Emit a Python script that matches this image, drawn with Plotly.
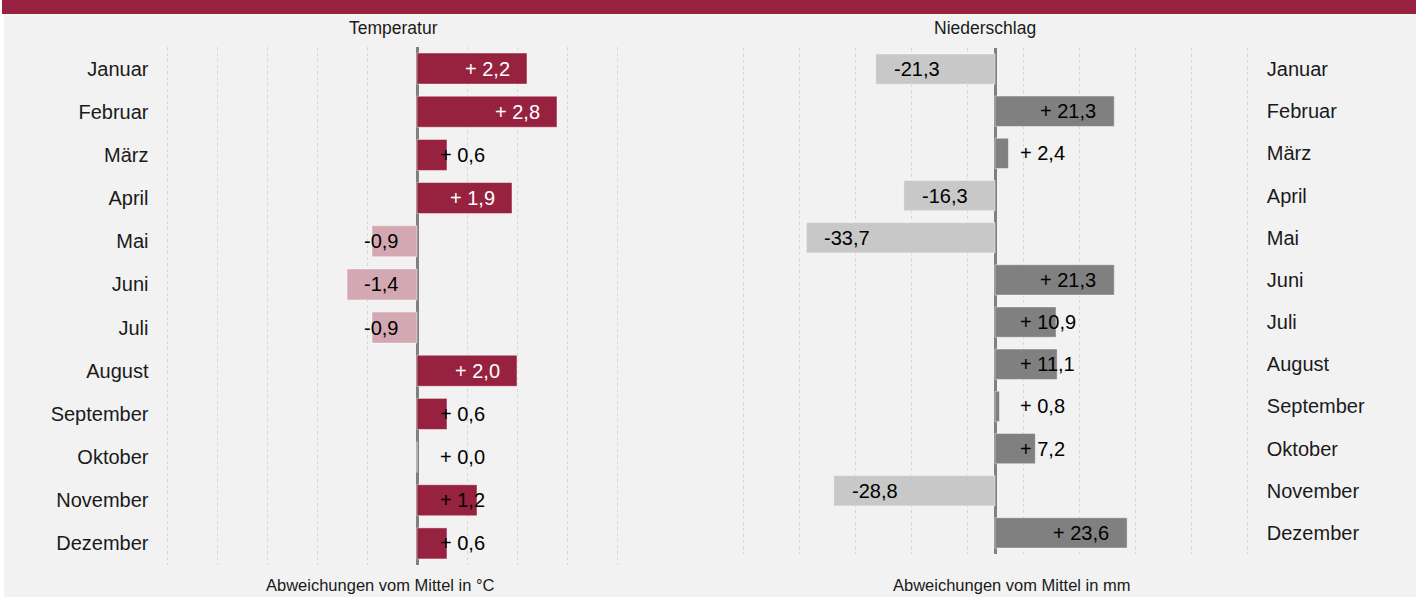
import plotly.graph_objects as go

months = ["Januar", "Februar", "März", "April", "Mai", "Juni", "Juli",
          "August", "September", "Oktober", "November", "Dezember"]
temperature = [2.2, 2.8, 0.6, 1.9, -0.9, -1.4, -0.9, 2.0, 0.6, 0.0, 1.2, 0.6]
precipitation = [-21.3, 21.3, 2.4, -16.3, -33.7, 21.3, 10.9, 11.1, 0.8, 7.2, -28.8, 23.6]

W, H = 1416, 600
FONT = "Liberation Sans, Arial, sans-serif"
FS = 20

# axis geometry (pixels); ranges padded slightly so edge gridlines render
L_X0, L_X1, L_RANGE = 164.5, 619.5, (-5.05, 4.05)
R_X0, R_X1, R_RANGE = 740.2, 1249.8, (-45.5, 45.5)
L_Y0, L_Y1 = 47, 565
R_Y0, R_Y1 = 48, 554

DARK_RED = "#97223F"
PINK = "#D4A8B2"
DARK_GREY = "#808080"
LIGHT_GREY = "#C8C8C8"

ARIAL_W = {"+": 0.584, " ": 0.278, ",": 0.278, "-": 0.333, "1": 0.556}


def text_w(s):
    return sum(ARIAL_W.get(c, 0.556) for c in s) * FS


def fmt(v):
    s = f"{abs(v):.1f}".replace(".", ",")
    return ("+ " + s) if v >= 0 else ("-" + s)


def pxper(x0, x1, rng):
    return (x1 - x0) / (rng[1] - rng[0])


def label_pos(v, ppu, pad, gap):
    """returns (x, xanchor, inside) in data units"""
    t = fmt(v)
    w = text_w(t)
    end = v * ppu
    if v >= 0:
        right = end - pad
        if right - w < gap:
            return gap / ppu, "left", False
        return right / ppu, "right", True
    else:
        left = end + pad
        if left + w > -gap + 4:
            return (-gap + 4) / ppu, "right", False
        return left / ppu, "left", True


fig = go.Figure()

fig.add_trace(go.Bar(
    x=temperature, y=months, orientation="h", xaxis="x", yaxis="y",
    marker=dict(color=[DARK_RED if v >= 0 else PINK for v in temperature],
                line=dict(color="rgba(255,255,255,0.45)", width=1)),
    width=0.72, hoverinfo="skip", showlegend=False))

fig.add_trace(go.Bar(
    x=precipitation, y=months, orientation="h", xaxis="x2", yaxis="y2",
    marker=dict(color=[DARK_GREY if v >= 0 else LIGHT_GREY for v in precipitation],
                line=dict(color="rgba(255,255,255,0.45)", width=1)),
    width=0.72, hoverinfo="skip", showlegend=False))

annotations = []
lp = pxper(L_X0, L_X1, L_RANGE)
for m, v in zip(months, temperature):
    x, anc, inside = label_pos(v, lp, 15, 21)
    col = "white" if (inside and v >= 0) else "black"
    annotations.append(dict(x=x, y=m, xref="x", yref="y", text=fmt(v),
                            xanchor=anc, yanchor="middle", showarrow=False,
                            font=dict(family=FONT, size=FS, color=col)))
rp = pxper(R_X0, R_X1, R_RANGE)
for m, v in zip(months, precipitation):
    x, anc, inside = label_pos(v, rp, 16, 23)
    annotations.append(dict(x=x, y=m, xref="x2", yref="y2", text=fmt(v),
                            xanchor=anc, yanchor="middle", showarrow=False,
                            font=dict(family=FONT, size=FS, color="black")))

annotations += [
    dict(x=393 / W, y=1 - 28 / H, xref="paper", yref="paper", text="Temperatur",
         showarrow=False, xanchor="center", yanchor="middle",
         font=dict(family=FONT, size=17.5, color="#1a1a1a")),
    dict(x=985 / W, y=1 - 28 / H, xref="paper", yref="paper", text="Niederschlag",
         showarrow=False, xanchor="center", yanchor="middle",
         font=dict(family=FONT, size=17.5, color="#1a1a1a")),
    dict(x=380 / W, y=1 - 585 / H, xref="paper", yref="paper",
         text="Abweichungen vom Mittel in °C",
         showarrow=False, xanchor="center", yanchor="middle",
         font=dict(family=FONT, size=16.5, color="#1a1a1a")),
    dict(x=1012 / W, y=1 - 585 / H, xref="paper", yref="paper",
         text="Abweichungen vom Mittel in mm",
         showarrow=False, xanchor="center", yanchor="middle",
         font=dict(family=FONT, size=16.5, color="#1a1a1a")),
]

shapes = [
    dict(type="rect", xref="paper", yref="paper", x0=4 / W, x1=1, y0=3 / H, y1=1,
         fillcolor="#F2F2F2", line=dict(width=0), layer="below"),
    dict(type="rect", xref="paper", yref="paper", x0=2 / W, x1=1, y0=1 - 14 / H, y1=1,
         fillcolor=DARK_RED, line=dict(width=0), layer="below"),
]

grid = dict(showgrid=True, gridcolor="#D6D6D6", griddash="dot", gridwidth=1,
            zeroline=True, zerolinecolor="#808080", zerolinewidth=3,
            showticklabels=False, ticks="", showline=False, fixedrange=True)

fig.update_layout(
    width=W, height=H,
    margin=dict(l=0, r=0, t=0, b=0),
    paper_bgcolor="white", plot_bgcolor="rgba(0,0,0,0)",
    barmode="overlay",
    xaxis=dict(domain=[L_X0 / W, L_X1 / W], range=list(L_RANGE), dtick=1,
               tick0=0, anchor="y", **grid),
    yaxis=dict(domain=[1 - L_Y1 / H, 1 - L_Y0 / H], range=[11.5, -0.5],
               anchor="x", showgrid=False, zeroline=False, ticks="",
               ticklabelstandoff=15,
               tickfont=dict(family=FONT, size=FS, color="#1a1a1a")),
    xaxis2=dict(domain=[R_X0 / W, R_X1 / W], range=list(R_RANGE), dtick=10,
                tick0=-45, anchor="y2", **grid),
    yaxis2=dict(domain=[1 - R_Y1 / H, 1 - R_Y0 / H], range=[11.5, -0.5],
                anchor="x2", side="right", showgrid=False, zeroline=False,
                ticks="", ticklabelstandoff=16,
                tickfont=dict(family=FONT, size=FS, color="#1a1a1a")),
    annotations=annotations,
    shapes=shapes,
)

fig.write_html("out.html", config={"displayModeBar": False},
               post_script="document.body.style.margin='0';")
